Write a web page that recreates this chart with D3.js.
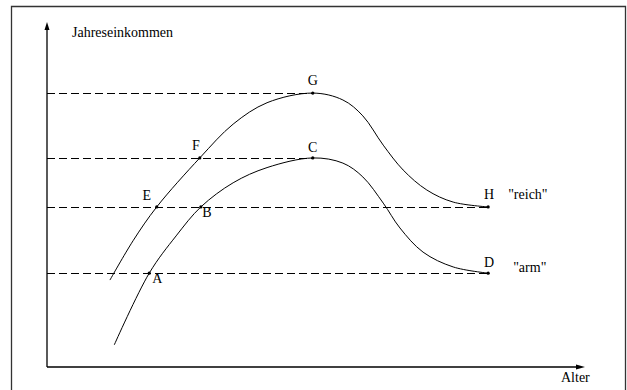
<!DOCTYPE html>
<html>
<head>
<meta charset="utf-8">
<script src="https://cdn.jsdelivr.net/npm/d3@7"></script>
<style>
    html, body { margin: 0; padding: 0; background: #fff; }
</style>
</head>
<body>
<svg id="viz"></svg>
<script>
// --- Lebenseinkommen: "reich" vs "arm" ---
// ages and incomes in arbitrary units (0..100 on both axes)
const richAge    = [11.7, 16.0, 20.4, 28.4, 34.6, 40.9, 49.4, 55.0, 58.7, 62.5, 66.2, 70.6, 75.5, 82.0];
const richIncome = [25.2, 36.6, 46.4, 60.6, 70.4, 76.6, 79.4, 77.4, 72.8, 64.3, 57.1, 51.3, 47.8, 46.4];
const poorAge    = [12.5, 19.0, 24.0, 28.6, 34.6, 40.9, 49.4, 55.0, 58.7, 62.5, 65.6, 69.9, 75.5, 82.0];
const poorIncome = [6.4, 27.2, 38.0, 46.4, 53.4, 57.8, 60.6, 59.1, 55.1, 47.5, 40.3, 33.3, 29.0, 27.2];

const pointLabels = ['A', 'B', 'C', 'D', 'E', 'F', 'G', 'H'];
const pointAge    = [19.0, 28.6, 49.4, 82.0, 20.4, 28.4, 49.4, 82.0];
const pointIncome = [27.2, 46.4, 60.6, 27.2, 46.4, 60.6, 79.4, 46.4];

const guideIncome = [79.4, 60.6, 46.4, 27.2];
const guideEndAge = [49.4, 49.4, 82.0, 82.0];

const seriesNames = ['"reich"', '"arm"'];
const seriesEndIncome = [46.4, 27.2];
const axisTitles = ['Jahreseinkommen', 'Alter'];

function drawChart() {
    const width = 627;
    const height = 390;
    const svg = d3.select('#viz')
        .attr('width', width)
        .attr('height', height)
        .attr('font-family', '"Liberation Serif", "Times New Roman", "DejaVu Serif", serif');
    svg.selectAll('*').remove();

    const x = d3.scaleLinear().domain([0, 100]).range([47, 585]);
    const y = d3.scaleLinear().domain([0, 100]).range([367, 22]);
    const crisp = v => Math.round(v) + 0.5;

    // scanned page frame
    svg.append('path')
        .attr('d', `M11.5,${height} V6.5 H625.5 V${height}`)
        .attr('fill', 'none')
        .attr('stroke', '#333')
        .attr('stroke-width', 1.3);

    // dashed guide lines from the income axis to the points
    svg.append('g')
        .selectAll('line')
        .data(guideIncome)
        .join('line')
        .attr('x1', x(0))
        .attr('x2', (d, i) => x(guideEndAge[i]))
        .attr('y1', d => crisp(y(d)))
        .attr('y2', d => crisp(y(d)))
        .attr('stroke', '#000')
        .attr('stroke-width', 1)
        .attr('stroke-dasharray', '8,4');

    // axes with arrow heads
    const axes = svg.append('g').attr('stroke', '#000').attr('stroke-width', 1.3);
    axes.append('line').attr('x1', x(0)).attr('y1', y(0)).attr('x2', x(0)).attr('y2', y(100) + 6);
    axes.append('line').attr('x1', x(0)).attr('y1', y(0)).attr('x2', x(100) - 6).attr('y2', y(0));
    svg.append('path')
        .attr('d', `M${x(0)},${y(100)} l-2.5,8 h5 Z`)
        .attr('fill', '#000');
    svg.append('path')
        .attr('d', `M${x(100)},${y(0)} l-9,-2.5 v5 Z`)
        .attr('fill', '#000');

    // income curves
    const line = d3.line()
        .x(d => x(d[0]))
        .y(d => y(d[1]))
        .curve(d3.curveCatmullRom.alpha(0.5));
    const curves = [d3.zip(richAge, richIncome), d3.zip(poorAge, poorIncome)];
    svg.append('g')
        .selectAll('path')
        .data(curves)
        .join('path')
        .attr('d', line)
        .attr('fill', 'none')
        .attr('stroke', '#000')
        .attr('stroke-width', 1);

    // labelled points
    const offsets = {
        A: [8, 10], B: [6, 10], C: [0, -6], D: [1, -6],
        E: [-10, -7], F: [-4, -8], G: [0, -8], H: [1, -8]
    };
    const pts = svg.append('g')
        .selectAll('g')
        .data(pointLabels)
        .join('g')
        .attr('transform', (d, i) => `translate(${x(pointAge[i])},${y(pointIncome[i])})`);
    pts.append('circle').attr('r', 1.6).attr('fill', '#000');
    pts.append('text')
        .attr('text-anchor', 'middle')
        .attr('x', d => offsets[d][0])
        .attr('y', d => offsets[d][1])
        .attr('font-size', 14)
        .attr('fill', '#000')
        .text(d => d);

    // series names at the right end
    svg.append('g')
        .selectAll('text')
        .data(seriesNames)
        .join('text')
        .attr('x', (d, i) => x(82) + (i === 0 ? 20 : 25))
        .attr('y', (d, i) => y(seriesEndIncome[i]) + (i === 0 ? -8 : -1))
        .attr('font-size', 14)
        .attr('fill', '#000')
        .text(d => d);

    // axis titles
    svg.append('text')
        .attr('x', 72)
        .attr('y', 37)
        .attr('font-size', 14)
        .attr('fill', '#000')
        .text(axisTitles[0]);
    svg.append('text')
        .attr('x', 561)
        .attr('y', 382)
        .attr('font-size', 14)
        .attr('fill', '#000')
        .text(axisTitles[1]);
}

document.addEventListener('DOMContentLoaded', () => {
    drawChart();
});
</script>
</body>
</html>
